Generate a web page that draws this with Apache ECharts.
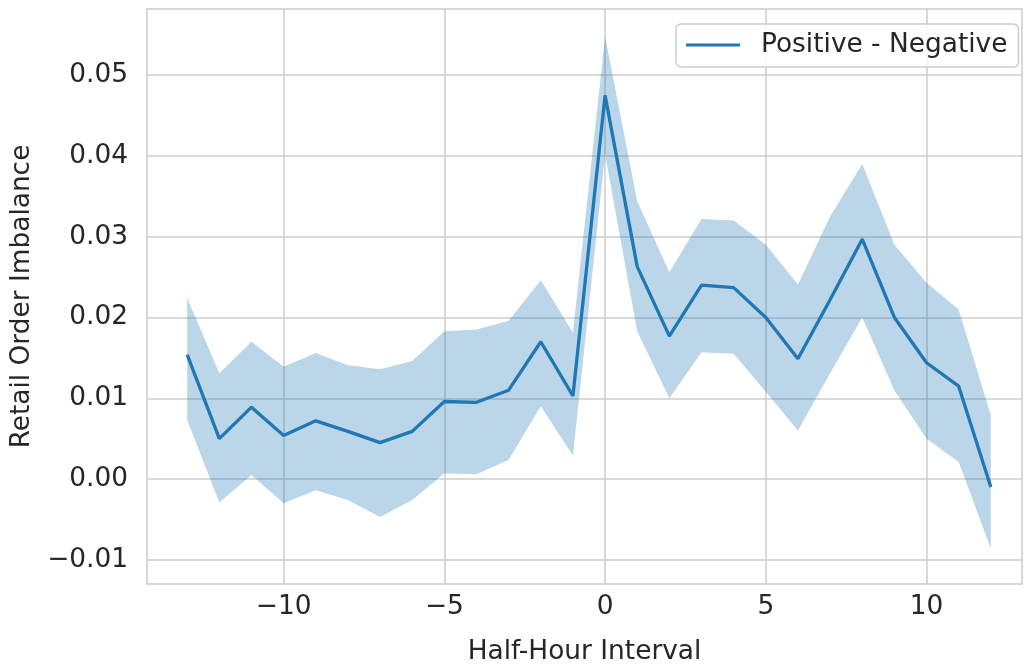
<!DOCTYPE html>
<html><head><meta charset="utf-8">
<script src="https://cdn.jsdelivr.net/npm/echarts@6/dist/echarts.min.js"></script>
<style>html,body{margin:0;padding:0;background:#fff}#c{width:1024px;height:667px}</style>
</head><body><div id="c"></div>
<script>
const intervals = [-13,-12,-11,-10,-9,-8,-7,-6,-5,-4,-3,-2,-1,0,1,2,3,4,5,6,7,8,9,10,11,12];
const meanValues = [0.0154,0.0050,0.0089,0.0054,0.0072,0.0059,0.0045,0.0059,0.0096,0.0095,0.0110,0.0170,0.0103,0.0475,0.0263,0.0177,0.0240,0.0237,0.0200,0.0149,0.0222,0.0297,0.0200,0.0144,0.0115,-0.0010];
const upperValues = [0.0224,0.0131,0.0170,0.0139,0.0156,0.0141,0.0136,0.0146,0.0183,0.0185,0.0196,0.0246,0.0181,0.0548,0.0344,0.0256,0.0322,0.0320,0.0290,0.0241,0.0325,0.0390,0.0290,0.0243,0.0210,0.0079];
const lowerValues = [0.0073,-0.0029,0.0005,-0.0030,-0.0014,-0.0026,-0.0047,-0.0026,0.0007,0.0006,0.0024,0.0090,0.0029,0.0402,0.0183,0.0100,0.0157,0.0155,0.0108,0.0060,0.0131,0.0200,0.0110,0.0050,0.0021,-0.0086];
const xTicks = [-10,-5,0,5,10];
const yTicks = [-0.01,0,0.01,0.02,0.03,0.04,0.05];
const seriesName = 'Positive - Negative';
const xTitle = 'Half-Hour Interval';
const yTitle = 'Retail Order Imbalance';

const FONT = 'DejaVu Sans';
const FS = 26.4;
const TXT = '#262626';
const GRID = '#cccccc';
const minus = s => s.replace('-', '\u2212');

const chart = echarts.init(document.getElementById('c'), null, {renderer: 'canvas'});
chart.setOption({
  animation: false,
  backgroundColor: '#fff',
  grid: {left: 147, right: 2, top: 9, bottom: 83, show: true, borderColor: GRID, borderWidth: 1.5,
    backgroundColor: 'transparent', containLabel: false, outerBoundsMode: 'none'},
  legend: {
    data: [seriesName],
    left: 676, top: 24,
    padding: [7, 11, 8, 10],
    itemWidth: 54, itemHeight: 3, icon: 'rect',
    backgroundColor: 'rgba(255,255,255,0.8)',
    borderColor: GRID, borderWidth: 1.5, borderRadius: 5,
    textStyle: {fontFamily: FONT, fontSize: FS, lineHeight: 28, color: TXT, padding: [0, 0, 0, 16]}
  },
  xAxis: {
    type: 'value', min: -14.25, max: 12.97,
    name: xTitle, nameLocation: 'middle', nameGap: 55,
    nameTextStyle: {fontFamily: FONT, fontSize: FS, color: TXT},
    axisLine: {show: false},
    axisTick: {show: false, customValues: xTicks},
    axisLabel: {customValues: xTicks, fontFamily: FONT, fontSize: FS, color: TXT, margin: 10,
      formatter: v => minus(String(v))},
    splitLine: {show: true, lineStyle: {color: GRID, width: 1.5}}
  },
  yAxis: {
    type: 'value', min: -0.013, max: 0.0582,
    name: yTitle, nameLocation: 'middle', nameGap: 112,
    nameTextStyle: {fontFamily: FONT, fontSize: FS, color: TXT},
    axisLine: {show: false},
    axisTick: {show: false, customValues: yTicks},
    axisLabel: {customValues: yTicks, fontFamily: FONT, fontSize: FS, color: TXT, margin: 19,
      formatter: v => minus(v.toFixed(2))},
    splitLine: {show: true, lineStyle: {color: GRID, width: 1.5}}
  },
  series: [
    {
      type: 'custom', name: 'band', silent: true, clip: true, z: 2,
      data: [[intervals[0], upperValues[0]]],
      renderItem: function (params, api) {
        const pts = [];
        for (let i = 0; i < intervals.length; i++) pts.push(api.coord([intervals[i], upperValues[i]]));
        for (let i = intervals.length - 1; i >= 0; i--) pts.push(api.coord([intervals[i], lowerValues[i]]));
        return {type: 'polygon', shape: {points: pts}, style: {fill: 'rgba(31,119,180,0.3)'}};
      }
    },
    {
      type: 'line', name: seriesName, z: 3,
      data: intervals.map((x, i) => [x, meanValues[i]]),
      symbol: 'none', smooth: false,
      itemStyle: {color: '#1f77b4'},
      lineStyle: {color: '#1f77b4', width: 3.3}
    }
  ]
});
</script></body></html>
